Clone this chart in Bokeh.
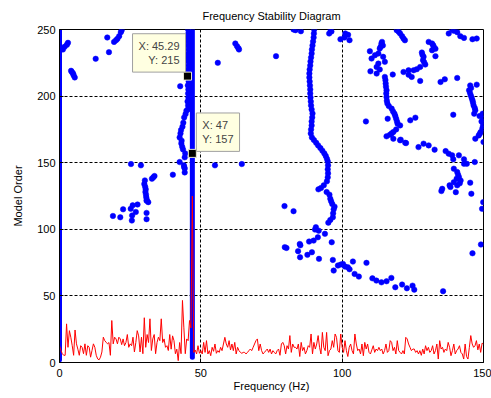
from bokeh.plotting import figure
from bokeh.models import Range1d, FixedTicker, Label
from bokeh.embed import file_html
from bokeh.resources import INLINE

# ---------------- data ----------------
x_ticks = [0, 50, 100, 150]
y_ticks = [0, 50, 100, 150, 200, 250]

# straight stable columns (frequency, first order, last order)
col_freq = [0, 47]
col_order_start = [2, 4]
col_order_end = [250, 250]

low_freq = [1.2, 1.8, 2.6, 3.0, 4.1, 4.4, 4.8, 5.0, 5.4, 12.8, 16.9, 17.5, 19.3, 20.0, 20.5, 21.1, 21.7, 22.0,
            25.3, 28.8, 18.9, 21.5, 22.5, 25.2, 25.6, 25.7, 25.9, 27.0, 27.6, 30.8, 30.8,
            30.2, 30.0, 30.3, 30.5, 30.4, 30.6, 30.7, 30.9, 31.4, 30.8, 32.7, 33.2, 33.6,
            55.0, 56.0, 62.2, 62.8, 63.3, 63.5, 64.5, 76.6]
low_order = [235, 237, 238.5, 240, 219, 218, 217, 215.6, 214, 228, 244, 233, 240.7, 242, 243, 245, 248, 249.5,
             149, 148, 110, 109, 115, 115.4, 106.6, 110.4, 118, 113, 118.6, 112.3, 107.6,
             136.7, 134, 132, 130, 128, 126, 124, 122, 120.4, 121.5, 138, 139, 140,
             148, 225, 239.5, 237.5, 236, 235, 149, 230]

m45_freq = [40.1, 42.5, 44.3, 44.3, 44.0, 44.1, 44.3, 44.5, 43.7, 43.4, 43.1, 43.2, 42.5, 42.8, 43.0, 43.5, 43.8, 44.1, 44.6, 44.9, 43.1, 42.7,
            45.4, 45.5, 45.3, 45.6, 45.5, 45.6, 45.4, 45.7, 45.5, 45.6, 45.5, 45.7, 45.6, 45.4, 45.6, 45.7, 45.5, 45.6, 45.4, 45.6, 45.5]
m45_order = [141, 150.5, 145.7, 142.7, 148, 146.7, 154, 157, 160, 162, 164.5, 166.5, 169, 172, 174.5, 177, 180, 184, 186.5, 189, 239.7, 207.4,
             190, 193, 196, 199, 202, 205, 208, 211, 214, 217, 220, 223, 226, 229, 232, 235, 238, 241, 244, 247, 250]

m90_freq = [90.1, 90.0, 89.9, 89.7, 89.5, 89.3, 89.2, 89.0, 88.8, 88.7, 88.5, 88.4, 88.4, 88.5, 88.6, 88.7, 88.7, 88.8, 88.9, 89.0, 89.2, 89.5, 89.4,
            89.2, 89.2, 89.0, 88.9, 89.3, 90.0, 90.8, 91.5, 92.3, 93.0, 93.7, 94.2, 94.6, 94.9, 95.0, 94.9, 95.0, 94.9, 94.6, 93.5, 92.5, 91.6,
            94.5, 95.5, 95.8, 96.1, 96.5, 97.3, 97.0, 96.8, 96.7, 95.8, 95.1,
            90.7, 90.4, 91.7, 93.9, 91.4, 88.3, 89.9, 96.3,
            79.6, 82.8,
            79.7, 80.3, 85.0, 85.2, 84.4, 85.1, 87.7, 89.3, 91.8,
            96.7, 98.5, 97.0, 99.5, 100.3, 101.0, 102.0, 102.6, 103.8, 104.4, 105.9, 108.6,
            110.7, 112.1, 113.9, 115.7, 117.4, 118.8, 121.2, 122.9, 124.9, 125.5, 135.7,
            82.8, 83.5, 85.4, 95.4, 95.9, 96.2, 99.4, 100.8, 101.1, 102.1, 102.6]
m90_order = [250, 247, 244, 241, 238, 235, 232, 229, 226, 223, 220, 217, 214, 211, 208, 205, 202, 199, 196, 193, 190, 187, 184,
             181, 178, 175, 172, 169, 167, 165, 163, 161, 159, 157, 155, 153, 151, 148, 145, 142, 139, 136, 133, 131, 130,
             128, 126, 123, 121, 119, 117, 115, 112, 109, 107, 105,
             101.6, 99.8, 99, 96.6, 94, 90.8, 91.5, 90.3,
             117.4, 113.6,
             86.6, 86, 89, 88, 83.6, 79, 80.8, 82.8, 77.8,
             77, 72.8, 69, 73.5, 74, 72, 71.5, 70, 75.8, 66.5, 64.5, 74.8,
             63.2, 61.5, 60.2, 61, 63.5, 56.5, 58.5, 55.7, 57.7, 54.7, 53.5,
             250, 249.5, 248.7, 247, 250, 248.5, 242.7, 244, 247, 246, 242]

m115_freq = [108.4,
             115.1, 115.3, 115.4, 115.5, 115.7, 115.6, 115.7, 115.8, 116.0, 116.5, 117.5, 118.0, 118.5, 118.8, 119.1,
             116.1, 119.4, 119.6, 120.5, 119.1, 118.1, 117.5, 116.9, 115.7, 118.1, 120.5, 120.7, 122.3, 122.6,
             124.1, 125.9,
             109.8, 110.4, 111.6, 113.9, 114.1, 113.3, 112.8, 114.5, 115.1, 112.8, 112.2, 113.3, 110.0, 112.2, 117.9, 114.4, 113.6,
             119.3, 120.0, 120.5, 121.2, 121.7, 122.2,
             130.6, 131.8, 132.2, 132.4, 133.0, 131.8, 133.0,
             128.2, 128.4, 128.8, 128.6, 129.0, 129.4, 127.6, 126.4, 125.3, 123.5, 121.7, 123.5, 124.6, 127.6,
             127.0, 128.8, 130.6, 132.7]
m115_order = [181,
              214.4, 212, 209.4, 207, 204.4, 202, 199.3, 196.5, 194.4, 192.5, 190.6, 188.5, 186.8, 185, 183,
              183, 181, 179.3, 178, 175, 173, 172, 171, 169.8, 168, 166.8, 167.3, 165, 164.7,
              181.8, 183.8,
              233.7, 228.2, 230.7, 239.5, 240.7, 235.7, 232, 229.5, 225.7, 224.4, 221.9, 220, 218.6, 216.9, 216.2, 238, 237,
              249.5, 248.3, 247, 245, 243.2, 241.9,
              240.7, 239.5, 238.2, 237, 235.5, 234.4, 230,
              232.7, 231, 229.5, 227, 225.5, 223.7, 221.9, 220.2, 219.4, 219.4, 218.1, 216, 214.4, 211.4,
              161.7, 164.3, 163, 159.8]

m145_freq = [136.6, 137.7, 138.9, 139.3, 141.3, 143.1, 143.1, 144.1, 146.9,
             139.5, 140.7, 141.0, 141.3, 140.5, 141.9, 139.5, 141.6, 140.7, 138.0, 138.3, 135.4, 135.1, 140.2, 145.3, 145.7,
             146.1, 149.1, 149.5, 149.9,
             137.7, 138.9, 139.5, 140.7, 141.8, 143.1, 146.1, 147.6,
             134.8, 136.3, 140.7, 139.3,
             145.3, 147.6, 145.6, 144.9, 145.2, 145.5, 145.8, 146.1, 146.3, 146.5, 146.9, 147.1, 146.7,
             149.7, 148.6, 149.8, 149.3, 150.0, 149.8, 149.6, 149.0, 148.7, 148.3, 147.1, 150.0]
m145_order = [158.7, 156.8, 155.5, 152.5, 155.5, 152.5, 149.2, 149.2, 150.5,
              145.5, 143, 141, 139.2, 138, 136.7, 135.4, 134.5, 133, 133, 131.7, 130.4, 128.7, 127.9, 135, 126.7,
              82, 88.6, 115.4, 120.4,
              247, 250, 249, 248, 245, 243.7, 242.7, 243.2,
              210.6, 212.6, 213.6, 186,
              208, 208.6, 206, 204.4, 202.5, 200.6, 198.7, 196.8, 195, 193, 191, 189.3, 186.8,
              186.8, 185, 183, 181, 179.3, 177.5, 175.6, 173, 171.8, 170.5, 168, 165.5]

# spectrum (red), sampled every 0.5 Hz from 0 to 150 Hz
spectrum_amp = [
    12.6, 9, 6.6, 5.4, 5.4, 29, 11.4, 23.9, 19, 12.6,
    5.4, 24.4, 14, 10, 5.4, 12.6, 11.4, 6.6, 14, 5.4,
    12.6, 11.4, 4, 9, 14, 11.4, 5.4, 2.7, 2, 4,
    7.9, 19, 16.4, 15.2, 14, 15, 5.4, 31.5, 14, 19,
    17.7, 14, 19, 17.7, 13.4, 17.7, 12.6, 15, 21, 11.4,
    14, 12.6, 19, 7.9, 15, 23.9, 20, 7.9, 19, 6.6,
    33.6, 11.4, 21, 15, 32.8, 9, 17.7, 21, 6.6, 15,
    19, 16.4, 32.8, 15, 17.7, 11.4, 12.6, 9, 21, 10,
    20, 16.4, 6.6, 10, 1.4, 15, 6.6, 46.6, 26, 6.6,
    17.7, 16.4, 31.5, 26,
    125,
    7.6, 9.4, 6.4, 12.6, 6.9, 8.9, 6.4, 15.1, 7.6, 16.4,
    6.4, 8.9, 5.1, 11.4, 8.4, 13.9, 6.9, 8.9, 7.6, 11.4,
    8.9, 13.9, 18.9, 13.9, 11.4, 16.4, 9.4, 13.9, 8.9, 15.1,
    6.4, 11.4, 8.9, 7.6, 6.9, 7.6, 7.6, 6.4, 7.6, 8.9,
    10.1, 8.9, 11.4, 13.9, 16.4, 17.7, 8.9, 13.9, 8.9, 6.4,
    7.6, 8.9, 10.1, 7.6, 10.1, 6.4,
    8.9, 7.6, 6.4, 8.9, 10.1, 5.4, 13.9, 15.1, 12.6, 6.4,
    12.6, 10.1, 20.2, 7.6, 13.9, 11.4, 11.4, 10.1, 13.9, 4.5,
    15.1, 8.9, 11.4, 6.4, 8.9, 12.6, 11.4, 21.4, 6.4, 15.1,
    10.1, 13.9, 20.2, 11.4, 6.4, 22.6, 11.4, 8.9, 22.6, 5.1,
    8.9, 10.1, 16.4, 11.4, 21.4, 18.9, 8.9, 7.6, 21.4, 11.4,
    7.6, 16.4, 8.9, 4.5, 11.4, 13.9, 8.9, 6.4, 21.4, 13.9,
    8.9, 10.1, 6.4, 13.9, 5.1, 15.1, 10.1, 13.9, 7.6, 6.4,
    9.5, 12.6, 7.6, 10.1, 8.9,
    11.4, 8.9, 10.1, 6.4, 8.9, 13.9, 7.6, 8.9, 16.4, 15.1,
    8.9, 11.4, 6.4, 16.4, 8.9, 7.6, 6.4, 8.9, 6.4, 18.9,
    17.7, 13.9, 11.4, 8.9, 10.1, 10.1, 7.6, 8.9, 6.4, 8.9,
    5.4, 10.1, 6.4, 12.6, 8.9, 11.4, 7.6, 8.9, 12.6, 6.4,
    8.9, 13.9, 2.6, 16.4, 10.1, 11.4, 7.6, 10.1, 8.9, 15.1,
    11.4, 5.1, 8.9, 13.9, 6.4, 8.9, 10.1, 12.6, 7.6, 6.4,
    2.6, 13.9, 4.5, 2.6, 11.4, 20.2, 13.9, 11.4, 12.6, 16.4,
    9.5, 13.9, 7.6, 14.5, 13.9,
]
spectrum_step = 0.5
spectrum_freq = [i * spectrum_step for i in range(len(spectrum_amp))]

# data tips
tip_freq = [45.29, 47]
tip_order = [215, 157]
tip_text = ["X: 45.29\nY: 215", "X: 47\nY: 157"]

# ---------------- figure ----------------
FONT = "Liberation Sans"
BLUE = "#0000FF"
RED = "#FF0000"

p = figure(width=491, height=398, x_range=Range1d(0, 150), y_range=Range1d(0, 250),
           output_backend="svg", toolbar_location=None,
           min_border_left=59, min_border_right=8, min_border_top=29, min_border_bottom=36,
           title="Frequency Stability Diagram")
p.background_fill_color = "white"
p.border_fill_color = "white"
p.outline_line_color = "black"
p.outline_line_width = 1

p.title.align = "center"
p.title.text_font = FONT
p.title.text_font_size = "11px"
p.title.text_font_style = "normal"
p.title.text_color = "black"
p.title.standoff = 15

for ax, ticks in ((p.xaxis[0], x_ticks), (p.yaxis[0], y_ticks)):
    ax.ticker = FixedTicker(ticks=ticks)
    ax.major_tick_in = 4
    ax.major_tick_out = 0
    ax.minor_tick_in = 0
    ax.minor_tick_out = 0
    ax.axis_line_color = "black"
    ax.major_tick_line_color = "black"
    ax.major_label_text_font = FONT
    ax.major_label_text_font_size = "11px"
    ax.major_label_text_color = "black"
    ax.axis_label_text_font = FONT
    ax.axis_label_text_font_size = "11px"
    ax.axis_label_text_font_style = "normal"
    ax.axis_label_text_color = "black"

p.xaxis.major_label_standoff = 6
p.xaxis.axis_label_standoff = 0
p.yaxis.major_label_standoff = 4
p.yaxis.axis_label_standoff = 10

p.xaxis.axis_label = "Frequency (Hz)"
p.yaxis.axis_label = "Model Order"

p.xgrid.ticker = FixedTicker(ticks=x_ticks)
p.ygrid.ticker = FixedTicker(ticks=y_ticks)
for g in (p.xgrid[0], p.ygrid[0]):
    g.grid_line_color = "black"
    g.grid_line_dash = "3 2"
    g.grid_line_width = 1

# stable poles
for fx, fy in ((low_freq, low_order), (m45_freq, m45_order), (m90_freq, m90_order),
               (m115_freq, m115_order), (m145_freq, m145_order)):
    p.scatter(fx, fy, size=5.5, color=BLUE, line_width=0.5)

p.segment(x0=col_freq, y0=col_order_start, x1=col_freq, y1=col_order_end,
          line_width=5, line_color=BLUE, line_cap="round")

# spectrum
p.line(spectrum_freq, spectrum_amp, line_color=RED, line_width=1)

# data tip markers
p.scatter(tip_freq, tip_order, marker="square", size=8, fill_color="black",
          line_color="#E8E8D0", line_width=1)

tip1 = Label(x=tip_freq[0], y=tip_order[0], text=tip_text[0], x_offset=-2, y_offset=4,
             text_align="right", text_baseline="bottom", text_font=FONT, text_font_size="11px",
             background_fill_color="#FFFFE1", border_line_color="#A0A0A0", padding=6)
tip2 = Label(x=tip_freq[1], y=tip_order[1], text=tip_text[1], x_offset=4, y_offset=2,
             text_align="left", text_baseline="bottom", text_font=FONT, text_font_size="11px",
             background_fill_color="#FFFFE1", border_line_color="#A0A0A0", padding=6)
p.add_layout(tip1)
p.add_layout(tip2)

open("out.html", "w").write(file_html(p, INLINE))
